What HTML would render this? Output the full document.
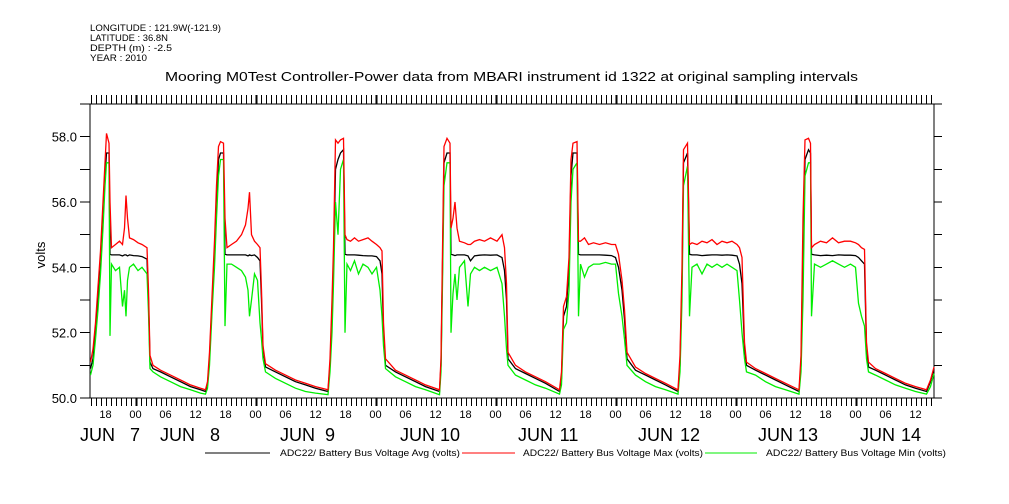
<!DOCTYPE html>
<html><head><meta charset="utf-8">
<style>
html,body{margin:0;padding:0;background:#fff;}
svg{display:block;font-family:"Liberation Sans",sans-serif;}
</style></head>
<body>
<svg id="chart" width="1009" height="504" viewBox="0 0 1009 504" xmlns="http://www.w3.org/2000/svg">
<g font-size="9.5" fill="#000">
<text x="90" y="31" textLength="131" lengthAdjust="spacingAndGlyphs">LONGITUDE : 121.9W(-121.9)</text>
<text x="90" y="41" textLength="78" lengthAdjust="spacingAndGlyphs">LATITUDE : 36.8N</text>
<text x="90" y="51" textLength="82" lengthAdjust="spacingAndGlyphs">DEPTH (m) : -2.5</text>
<text x="90" y="61" textLength="57" lengthAdjust="spacingAndGlyphs">YEAR : 2010</text>
</g>
<text x="165" y="81" textLength="693" lengthAdjust="spacingAndGlyphs" font-size="13">Mooring M0Test Controller-Power data from MBARI instrument id 1322 at original sampling intervals</text>
<text transform="translate(45,255) rotate(-90)" text-anchor="middle" font-size="13">volts</text>
<g id="axes"></g>
<g id="series"></g>
<g font-size="9">
<line x1="205" y1="453" x2="270" y2="453" stroke="#000"/>
<text x="280" y="456" textLength="180" lengthAdjust="spacingAndGlyphs">ADC22/ Battery Bus Voltage Avg (volts)</text>
<line x1="462" y1="453" x2="515" y2="453" stroke="#ff0000"/>
<text x="523" y="456" textLength="180" lengthAdjust="spacingAndGlyphs">ADC22/ Battery Bus Voltage Max (volts)</text>
<line x1="705" y1="453" x2="757" y2="453" stroke="#00ee00"/>
<text x="766" y="456" textLength="180" lengthAdjust="spacingAndGlyphs">ADC22/ Battery Bus Voltage Min (volts)</text>
</g>
</svg>
<script>
// hours since Jun 7 00:00
const times=[15.0,15.5,16.0,16.5,17.0,17.5,17.9,18.2,18.7,18.9,19.2,20.0,20.8,21.4,21.8,22.1,22.4,22.8,23.6,24.5,25.3,26.3,26.6,26.9,27.5,29.0,31.0,33.0,35.0,37.0,38.0,
38.4,38.8,39.3,39.8,40.2,40.6,41.0,41.6,41.9,42.3,43.2,44.2,45.2,46.0,46.5,46.8,47.2,47.8,48.4,48.9,49.2,49.5,50.0,52.0,54.0,56.0,58.0,60.0,62.5,
62.9,63.3,63.6,64.0,64.5,65.0,65.6,65.9,66.3,67.0,67.8,68.6,69.5,70.5,71.3,72.2,72.9,73.3,73.6,74.0,76.0,78.0,80.0,82.0,84.8,
85.1,85.4,85.7,86.3,86.9,87.1,87.5,87.9,88.3,88.8,89.8,90.5,91.0,91.8,92.8,93.8,95.0,96.3,97.3,97.8,98.2,98.5,100.0,102.0,104.0,106.0,108.8,
109.2,109.6,110.2,110.7,111.1,111.5,112.3,112.6,113.0,113.8,114.6,115.6,116.8,118.0,119.2,120.0,120.6,121.3,121.8,122.3,124.0,126.0,128.0,130.0,132.5,
132.9,133.3,133.6,134.4,134.8,135.3,136.3,137.3,138.3,139.3,140.3,141.3,142.3,143.3,144.3,144.8,145.3,145.8,146.2,148.0,150.0,152.0,154.0,156.7,
157.1,157.5,157.9,158.6,159.0,159.2,159.8,161.0,162.2,163.4,164.6,165.8,167.0,168.0,168.6,169.2,169.8,170.2,170.6,172.0,174.0,176.0,178.0,180.0,182.2,183.0,183.7];
const avgValues=[50.9,51.2,52.0,53.0,54.0,55.5,56.8,57.5,57.5,54.4,54.38,54.38,54.38,54.35,54.38,54.38,54.35,54.38,54.36,54.35,54.33,54.25,53.0,51.1,50.9,50.8,50.65,50.5,50.35,50.25,50.2,
50.4,51.2,52.8,54.4,56.0,57.3,57.5,57.5,54.4,54.38,54.38,54.38,54.38,54.38,54.35,54.38,54.36,54.38,54.3,54.2,53.0,51.5,50.95,50.8,50.65,50.5,50.4,50.3,50.2,
51.0,52.5,54.0,57.0,57.3,57.5,57.6,54.4,54.38,54.38,54.38,54.37,54.36,54.35,54.35,54.33,54.2,53.8,52.0,51.0,50.8,50.65,50.5,50.35,50.2,
51.0,54.0,57.2,57.5,57.5,54.4,54.38,54.36,54.38,54.38,54.38,54.35,54.2,54.35,54.37,54.38,54.37,54.38,54.3,53.9,53.0,51.2,50.9,50.75,50.6,50.45,50.2,
50.6,52.5,52.8,54.0,56.8,57.5,57.5,54.4,54.38,54.38,54.38,54.38,54.38,54.37,54.36,54.3,54.0,53.3,52.4,51.2,50.85,50.7,50.55,50.4,50.2,
51.0,53.5,57.2,57.5,54.4,54.38,54.38,54.36,54.37,54.38,54.38,54.37,54.38,54.37,54.35,54.1,53.5,51.5,51.0,50.85,50.7,50.55,50.4,50.2,
51.0,54.5,57.3,57.6,57.5,54.4,54.38,54.36,54.37,54.36,54.38,54.37,54.37,54.36,54.3,54.2,54.1,51.5,50.95,50.85,50.7,50.55,50.4,50.3,50.2,50.5,50.9];
const maxValues=[51.1,51.5,52.3,53.4,54.5,56.0,57.2,58.1,57.8,56.0,54.6,54.7,54.8,54.7,55.2,56.2,55.5,54.9,54.85,54.75,54.7,54.6,53.3,51.3,51.0,50.85,50.7,50.55,50.4,50.3,50.25,
50.5,51.4,53.1,54.8,56.5,57.7,57.85,57.8,55.5,54.6,54.7,54.8,55.0,55.3,55.8,56.3,55.0,54.8,54.7,54.6,53.3,51.6,51.05,50.85,50.7,50.55,50.45,50.35,50.25,
51.2,53.0,54.6,57.9,57.8,57.9,57.95,55.0,54.85,54.8,54.9,54.8,54.85,54.9,54.8,54.7,54.6,54.5,52.3,51.2,50.85,50.7,50.55,50.4,50.25,
51.2,54.5,57.7,57.95,57.8,55.2,55.5,56.0,55.2,54.8,54.75,54.7,54.7,54.8,54.85,54.8,54.9,54.8,55.0,54.6,53.5,51.4,51.0,50.8,50.65,50.5,50.25,
50.8,52.8,53.1,54.3,57.3,57.8,57.85,54.8,54.8,54.9,54.7,54.75,54.7,54.75,54.7,54.7,54.4,53.6,52.7,51.4,50.95,50.75,50.6,50.45,50.25,
51.3,54.0,57.6,57.8,54.7,54.75,54.7,54.8,54.75,54.85,54.7,54.8,54.75,54.8,54.7,54.6,54.3,51.7,51.1,50.9,50.75,50.6,50.45,50.25,
51.3,55.5,57.9,57.95,57.8,54.6,54.7,54.8,54.75,54.9,54.75,54.8,54.8,54.75,54.7,54.6,54.55,51.7,51.1,50.9,50.75,50.6,50.45,50.35,50.25,50.55,50.95];
const minValues=[50.7,51.0,51.8,52.7,53.8,55.2,56.5,57.2,57.2,51.9,54.1,53.9,54.0,52.8,53.3,52.5,53.6,54.0,54.1,53.9,54.0,53.8,52.6,50.9,50.8,50.65,50.5,50.35,50.25,50.15,50.12,
50.3,51.0,52.6,54.0,55.5,56.8,57.3,57.3,52.2,54.1,54.1,54.0,53.9,53.7,53.3,52.5,53.0,53.8,53.6,52.3,51.8,51.2,50.8,50.6,50.45,50.3,50.2,50.15,50.1,
50.8,52.0,53.5,56.0,55.0,57.0,57.3,52.0,54.1,53.9,54.2,53.8,54.1,54.0,53.8,54.0,53.3,52.5,51.6,50.9,50.65,50.5,50.35,50.25,50.1,
50.8,53.5,56.5,57.2,57.2,52.0,53.2,53.8,53.0,54.0,54.2,52.8,53.8,54.0,53.9,54.0,53.9,54.0,53.5,52.5,51.5,51.0,50.7,50.55,50.4,50.3,50.12,
50.4,52.1,52.3,53.3,56.0,57.0,57.2,52.5,54.1,53.7,54.0,54.1,54.1,54.15,54.1,54.1,53.2,52.5,51.8,51.0,50.7,50.5,50.35,50.25,50.12,
50.8,53.0,56.5,57.1,52.5,54.0,54.1,53.8,54.1,54.0,54.1,54.0,54.1,54.0,53.9,53.0,52.0,51.2,50.8,50.7,50.5,50.35,50.25,50.12,
50.8,53.0,56.8,57.2,57.2,52.5,54.1,54.0,54.1,54.2,54.1,54.0,54.1,54.0,52.9,52.5,52.2,51.2,50.8,50.7,50.55,50.4,50.3,50.2,50.12,50.35,50.75];
const yTickValues=[50,51,52,53,54,55,56,57,58,59];
const yLabelValues=[50,52,54,56,58];
const hourLabels=['18','00','06','12'];
const dayLabels=[['JUN','7'],['JUN','8'],['JUN','9'],['JUN','10'],['JUN','11'],['JUN','12'],['JUN','13'],['JUN','14']];

const NS='http://www.w3.org/2000/svg';
const L=90,R=934,T=104,B=398;
const T0=14.9,T1=183.7;
function xs(t){return L+(t-T0)*(R-L)/(T1-T0);}
function ys(v){return B-(v-50)*(B-T)/9;}
function mk(tag,attrs,parent){const e=document.createElementNS(NS,tag);for(const k in attrs)e.setAttribute(k,attrs[k]);parent.appendChild(e);return e;}
const ax=document.getElementById('axes');
const frame=mk('rect',{x:L,y:T,width:R-L,height:B-T,fill:'none',stroke:'#000','stroke-width':1.2,'shape-rendering':'crispEdges'},ax);


yTickValues.forEach(v=>{
  const y=ys(v);
  const a=mk('line',{x1:L-10,y1:y,x2:L,y2:y,stroke:'#000','shape-rendering':'crispEdges'},ax);
  
  
  const b=mk('line',{x1:R,y1:y,x2:R+8,y2:y,stroke:'#000','shape-rendering':'crispEdges'},ax);
  
  
});
yLabelValues.forEach(v=>{
  const t=mk('text',{x:L-13,y:ys(v)+5,'text-anchor':'end','font-size':13},ax);
  t.textContent=v.toFixed(1);
  
  
});
for(let h=Math.ceil(T0);h<=T1;h++){
  const x=Math.round(xs(h))+0.5;
  const major=(h%24===0);
  const bt=mk('line',{x1:x,y1:B,x2:x,y2:B+8,stroke:'#000','stroke-width':major?2:1},ax);
  
  
  const tt=mk('line',{x1:x,y1:T-9,x2:x,y2:T,stroke:'#000','stroke-width':major?2:1},ax);
  
  
  if(h%6===0){
    const t=mk('text',{x:xs(h),y:418,'text-anchor':'middle','font-size':11},ax);
    t.textContent=hourLabels[(h/6+1)%4];
    
    
  }
}
const dayX=[[80,135],[160,215],[280,330],[400,450],[518,569],[638,690],[758,808],[860,911]];
dayLabels.forEach((d,i)=>{
  const a=mk('text',{x:dayX[i][0],y:441,'font-size':18},ax);
  a.textContent=d[0];
  
  
  const b=mk('text',{x:dayX[i][1],y:441,'text-anchor':'middle','font-size':18},ax);
  b.textContent=d[1];
  
  
});
const sg=document.getElementById('series');
function draw(vals,color,name){
  const pts=times.map((t,i)=>xs(t).toFixed(1)+','+ys(vals[i]).toFixed(1)).join(' ');
  const p=mk('polyline',{points:pts,fill:'none',stroke:color,'stroke-width':1.3,'stroke-linejoin':'miter'},sg);
  
  
}
draw(avgValues,'#000000','avg-series-line');
draw(minValues,'#00ee00','min-series-line');
draw(maxValues,'#ff0000','max-series-line');
</script>
</body></html>
